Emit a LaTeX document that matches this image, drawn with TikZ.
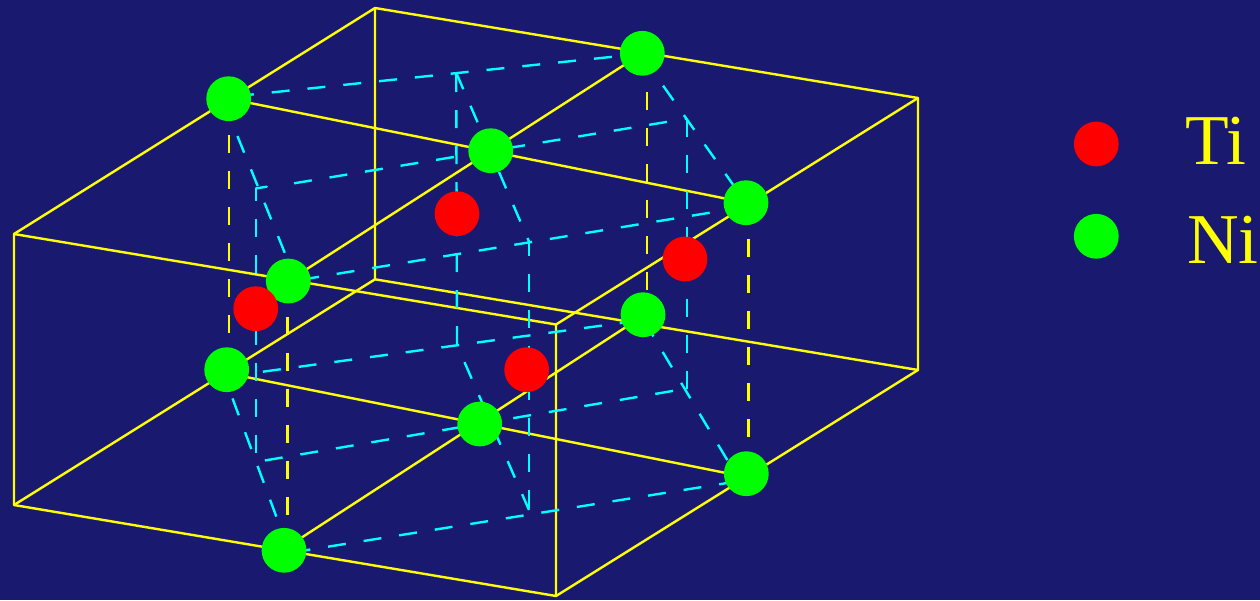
\documentclass[tikz,border=0pt]{standalone}
\usepackage{fontspec}
\setmainfont{Liberation Serif}
\definecolor{bgblue}{HTML}{191970}
\definecolor{ylw}{HTML}{FFFF00}
\definecolor{cyn}{HTML}{00FFFF}
\definecolor{grn}{HTML}{00FF00}
\definecolor{rd}{HTML}{FF0000}
\tikzset{
  edge/.style={draw=ylw,line width=2.4pt,line join=round},
  ydash/.style={draw=ylw,line width=2.4pt,dash pattern=on 18pt off 18pt,dash phase=#1},
  cdash/.style={draw=cyn,line width=2.4pt,dash pattern=on 18pt off 18pt,dash phase=#1},
  cline/.style={draw=cyn,line width=2.4pt,line cap=round},
  atom/.style={circle,inner sep=0pt,minimum size=44.8pt},
  ni/.style={atom,fill=grn},
  ti/.style={atom,fill=rd},
  lab/.style={text=ylw,inner sep=0pt,anchor=base west,font=\fontsize{71.5}{72}\selectfont}
}
\begin{document}
\begin{tikzpicture}[x=1pt,y=-1pt]
\useasboundingbox (0,0) rectangle (1260,600);
\fill[bgblue] (0,0) rectangle (1260,600);
% box corners
\coordinate (fa) at (14,234);
\coordinate (fb) at (556,324.5);
\coordinate (fc) at (556,596);
\coordinate (fd) at (14,505);
\coordinate (ba) at (375,8);
\coordinate (bb) at (918,98);
\coordinate (bc) at (918,370);
\coordinate (bd) at (375,279.3);
% atom centres
\coordinate (A) at (228.7,98.7);
\coordinate (B) at (642.3,53.3);
\coordinate (C) at (746,202.7);
\coordinate (D) at (490.7,150.7);
\coordinate (E) at (288.3,281);
\coordinate (F) at (226.7,369.7);
\coordinate (G) at (643,314.7);
\coordinate (H) at (746.3,473.7);
\coordinate (I) at (479.7,424);
\coordinate (J) at (284,550.3);
% inner cell corners
\coordinate (K) at (456.2,72.7);
\coordinate (L) at (687,118.6);
\coordinate (M) at (529,241.5);
\coordinate (N) at (256,188.4);
\coordinate (K2) at (457,345);
\coordinate (L2) at (687,388.5);
\coordinate (M2) at (529,510);
\coordinate (N2) at (256,462);
% yellow box
\draw[edge] (fa) -- (fb) -- (fc) -- (fd) -- cycle;
\draw[edge] (ba) -- (bb) -- (bc) -- (bd) -- cycle;
\draw[edge] (fa) -- (ba);
\draw[edge] (fb) -- (bb);
\draw[edge] (fc) -- (bc);
\draw[edge] (fd) -- (bd);
% solid lines through the atoms
\coordinate (Fs) at (226,373);
\coordinate (Hs) at (746,477);
\coordinate (Gs) at (643,316);
\coordinate (Js) at (284,549);
\draw[edge] (A) -- (C);
\draw[edge] (B) -- (E);
\draw[edge] (Fs) -- (Hs);
\draw[edge] (Gs) -- (Js);
% yellow dashed verticals
\coordinate (y1a) at (228.7,98);
\coordinate (y1b) at (228.7,370);
\coordinate (y2a) at (646.7,53);
\coordinate (y2b) at (646.7,315);
\coordinate (y3a) at (748.3,203);
\coordinate (y3b) at (748.3,473);
\coordinate (y4a) at (287.3,282);
\coordinate (y4b) at (287.3,550);
\draw[ydash=35pt] (y1a) -- (y1b);
\draw[ydash=32.7pt] (y2a) -- (y2b);
\draw[ydash=35.7pt] (y3a) -- (y3b);
\draw[ydash=1.3pt] (y4a) -- (y4b);
% cyan dashed: top plane
\coordinate (c1a) at (228,97);
\coordinate (c1b) at (642,53.7);
\coordinate (c2a) at (640,53);
\coordinate (c2b) at (746,203);
\coordinate (c3a) at (289,281.7);
\coordinate (c3b) at (746,206.8);
\coordinate (c4a) at (222,98);
\coordinate (c4b) at (296.6,282);
\coordinate (c12a) at (294,183.3);
\coordinate (c12b) at (266.7,186.7);
\draw[cdash=28.1pt] (c1a) -- (c1b);
\draw[cdash=32pt] (c2a) -- (c2b);
\draw[cdash=23.7pt] (c3a) -- (c3b);
\draw[cdash=31pt] (c4a) -- (c4b);
\draw[cdash=0pt] (K) -- (M);
\draw[cdash=0pt] (c12a) -- (L);
\draw[cline] (N) -- (c12b);
% cyan dashed: bottom plane
\coordinate (c7a) at (222,370);
\coordinate (c7b) at (288.7,550);
\coordinate (c8a) at (640.6,315);
\coordinate (c8b) at (738,478);
\coordinate (c9a) at (284,553.7);
\coordinate (c9b) at (746,480);
\coordinate (c10a) at (226,376.7);
\coordinate (c10b) at (643,320);
\draw[cdash=5.7pt] (c7a) -- (c7b);
\draw[cdash=29pt] (c8a) -- (c8b);
\draw[cdash=27.4pt] (c9a) -- (c9b);
\draw[cdash=34.7pt] (c10a) -- (c10b);
\draw[cdash=17.3pt] (K2) -- (M2);
\draw[cdash=27pt] (N2) -- (L2);
% cyan dashed: verticals of the inner cell
\draw[cdash=5.7pt] (N) -- (N2);
\draw[cdash=34.7pt] (K) -- (K2);
\draw[cdash=0pt] (L) -- (L2);
\draw[cdash=4pt] (M) -- (M2);
% atoms
\node[ni] (nA) at (A) {};
\node[ni] (nB) at (B) {};
\node[ni] (nC) at (C) {};
\node[ni] (nD) at (D) {};
\node[ni] (nE) at (E) {};
\node[ni] (nF) at (F) {};
\node[ni] (nG) at (G) {};
\node[ni] (nH) at (H) {};
\node[ni] (nI) at (I) {};
\node[ni] (nJ) at (J) {};
\node[ti] (t1) at (457,213.7) {};
\node[ti] (t2) at (685,259) {};
\node[ti] (t3) at (255.7,308.7) {};
\node[ti] (t4) at (526.7,369.7) {};
% legend
\node[ti] (legTi) at (1096.3,144) {};
\node[ni] (legNi) at (1096.3,236.3) {};
\node[lab] (txtTi) at (1185.5,164) {Ti};
\node[lab] (txtNi) at (1187,263.3) {Ni};
\end{tikzpicture}
\end{document}
